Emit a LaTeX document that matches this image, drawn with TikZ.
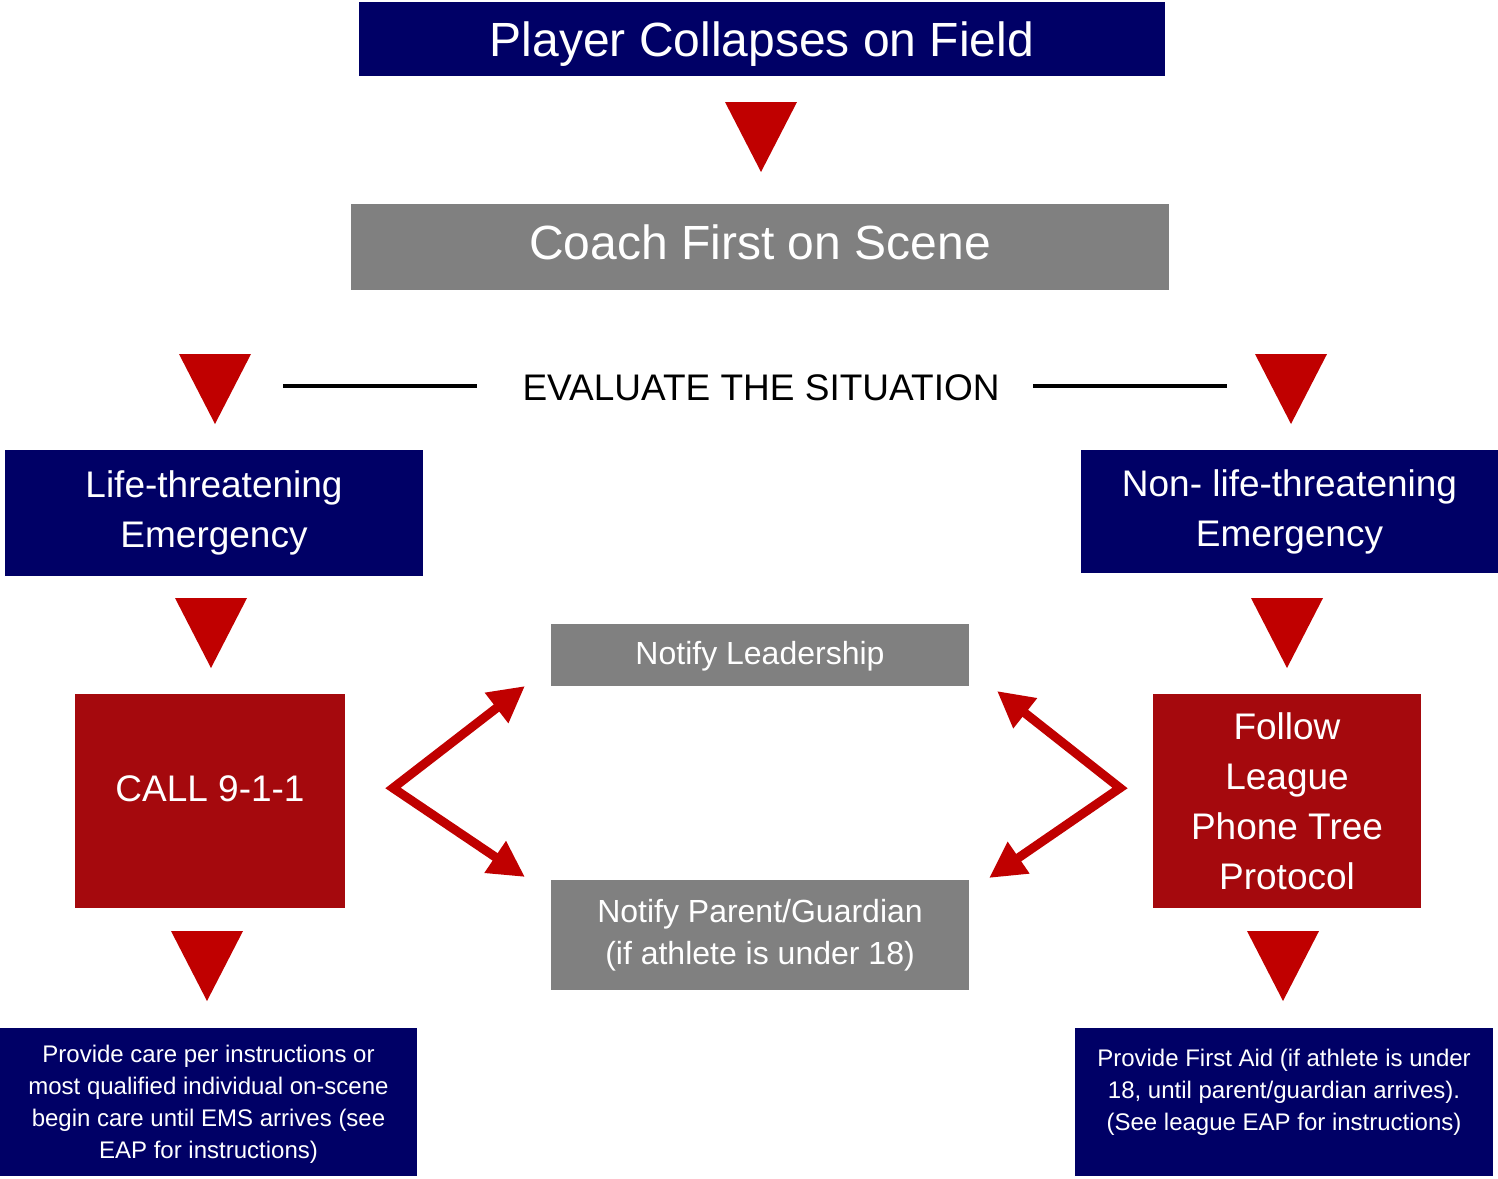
\documentclass[tikz,border=0pt]{standalone}
\usepackage{fontspec}
\setmainfont{Liberation Sans}
\usetikzlibrary{arrows.meta}

\definecolor{navyblue}{RGB}{0,0,102}
\definecolor{flowred}{RGB}{192,0,0}
\definecolor{boxred}{RGB}{165,9,13}
\definecolor{midgray}{RGB}{128,128,128}

\begin{document}
\begin{tikzpicture}[x=1pt,y=-1pt,
  panel/.style={rectangle, inner sep=0pt, text=white, align=center},
  navypanel/.style={panel, fill=navyblue},
  graypanel/.style={panel, fill=midgray},
  redpanel/.style={panel, fill=boxred},
  titletext/.style={font=\fontsize{48}{58}\selectfont},
  stagetext/.style={font=\fontsize{37}{50}\selectfont},
  notifytext/.style={font=\fontsize{32}{42}\selectfont},
  notetext/.style={font=\fontsize{24}{32}\selectfont},
  rulestroke/.style={draw=black, line width=4pt},
  redarrow/.style={draw=flowred, line width=9pt, line join=miter,
    {Triangle[length=36pt,width=36pt]}-{Triangle[length=36pt,width=36pt]}},
  downtri/.pic={\fill[flowred] (-36,0) -- (36,0) -- (0,70) -- cycle;}
]
\fill[white] (0,0) rectangle (1498,1178);
\useasboundingbox (0,0) rectangle (1498,1178);

% top of the chain
\node[navypanel, titletext, minimum width=806, minimum height=74,
      text height=44, text depth=10] (collapse) at (762,39) {Player Collapses on Field};
\pic at (761,102) {downtri};
\node[graypanel, titletext, minimum width=818, minimum height=86,
      text height=34, text depth=10] (coach) at (760,247) {Coach First on Scene};

% evaluation row
\node[inner sep=0pt, text=black, font=\fontsize{37}{44}\selectfont,
      text height=26.5, text depth=0] (evaluate) at (761,387) {EVALUATE THE SITUATION};
\coordinate (ruleLa) at (283,386);
\coordinate (ruleLb) at (477,386);
\coordinate (ruleRa) at (1033,386);
\coordinate (ruleRb) at (1227,386);
\draw[rulestroke] (ruleLa) -- (ruleLb);
\draw[rulestroke] (ruleRa) -- (ruleRb);
\pic at (215,354) {downtri};
\pic at (1291,354) {downtri};

% the two branches
\node[navypanel, stagetext, minimum width=418, minimum height=126] (life) at (214,513)
      {Life-threatening\\Emergency};
\node[navypanel, stagetext, minimum width=417, minimum height=123] (nonlife) at (1289.5,511.5)
      {Non- life-threatening\\Emergency};
\pic at (211,598) {downtri};
\pic at (1287,598) {downtri};

\node[redpanel, stagetext, minimum width=270, minimum height=214,
      text height=27, text depth=27] (call) at (210,801) {CALL 9-1-1};
\node[redpanel, stagetext, minimum width=268, minimum height=214] (phonetree) at (1287,801)
      {Follow\\League\\Phone Tree\\Protocol};

% notifications in the middle
\node[graypanel, notifytext, minimum width=418, minimum height=62,
      text height=24, text depth=6] (leaders) at (760,655) {Notify Leadership};
\node[graypanel, notifytext, minimum width=418, minimum height=110] (parents) at (760,935)
      {Notify Parent/Guardian\\(if athlete is under 18)};

\coordinate (forkL) at (393,788);
\coordinate (forkLup) at (525,686);
\coordinate (forkLdown) at (525,877);
\draw[redarrow] (forkLup) -- (forkL) -- (forkLdown);

\coordinate (forkR) at (1120,788);
\coordinate (forkRup) at (997,691);
\coordinate (forkRdown) at (989,878);
\draw[redarrow] (forkRup) -- (forkR) -- (forkRdown);

% final care steps
\pic at (207,931) {downtri};
\pic at (1283,931) {downtri};

\node[navypanel, minimum width=417, minimum height=148] (careL) at (208.5,1102) {};
\node[panel, notetext] (careLtext) at ([yshift=-2pt]careL.center)
      {Provide care per instructions or\\most qualified individual on-scene\\begin care until EMS arrives (see\\EAP for instructions)};
\node[navypanel, minimum width=418, minimum height=148] (careR) at (1284,1102) {};
\node[panel, notetext] (careRtext) at ([yshift=10pt]careR.center)
      {Provide First Aid (if athlete is under\\18, until parent/guardian arrives).\\(See league EAP for instructions)};
\end{tikzpicture}
\end{document}
